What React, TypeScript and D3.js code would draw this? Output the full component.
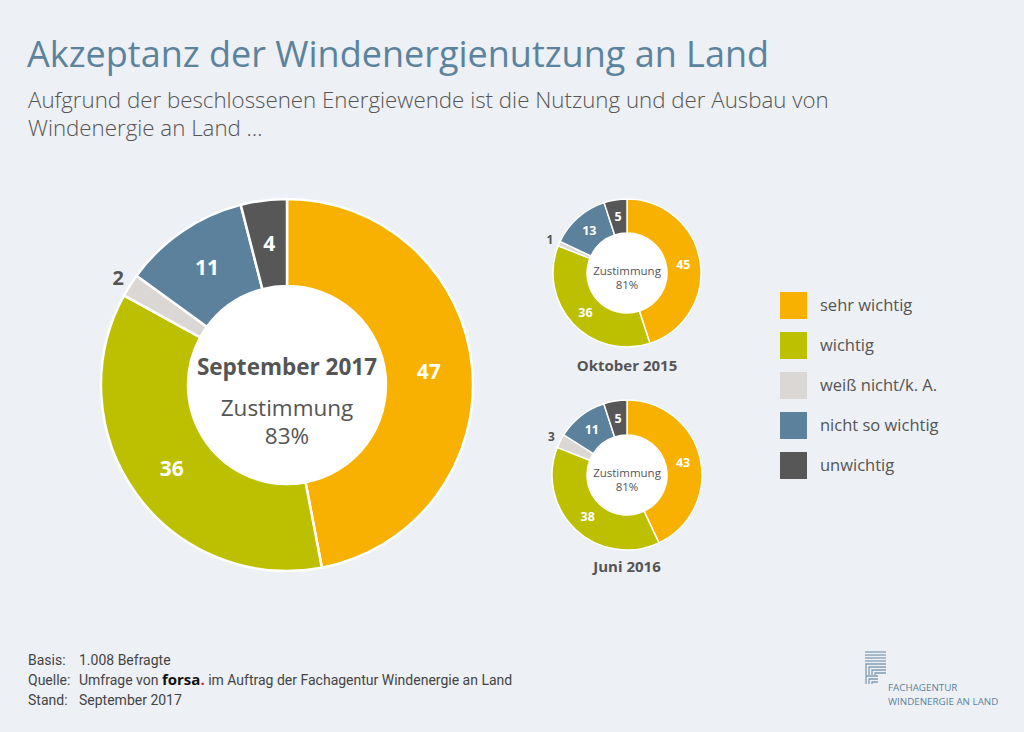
import React from "react";
import * as d3 from "d3";

const categories = ["sehr wichtig", "wichtig", "weiß nicht/k. A.", "nicht so wichtig", "unwichtig"];
const colors = ["#F8B100", "#BDC000", "#DBD7D4", "#5B819D", "#575757"];
const labelColors = ["#fff", "#fff", "#555", "#fff", "#fff"];

const sep2017 = [47, 36, 2, 11, 4];
const okt2015 = [45, 36, 1, 13, 5];
const jun2016 = [43, 38, 3, 11, 5];

const titleText = "Akzeptanz der Windenergienutzung an Land";
const subtitleLines = [
  "Aufgrund der beschlossenen Energiewende ist die Nutzung und der Ausbau von",
  "Windenergie an Land …",
];
const footerKeys = ["Basis:", "Quelle:", "Stand:"];

const BG = "#EDF0F4";
const TITLE_COLOR = "#5B839D";
const TEXT = "#555";
const FONT = "'Open Sans', 'Noto Sans', sans-serif";
const NARROW = "'Liberation Sans Narrow', 'Roboto', sans-serif";

type DonutProps = {
  values: number[];
  cx: number;
  cy: number;
  outer: number;
  inner: number;
  labelSize: number;
  outsideOffset: number;
  children?: React.ReactNode;
};

function Donut({ values, cx, cy, outer, inner, labelSize, outsideOffset, children }: DonutProps) {
  const pie = d3.pie<number>().sort(null).value((d) => d);
  const arcs = pie(values);
  const arc = d3.arc<d3.PieArcDatum<number>>().innerRadius(inner).outerRadius(outer);
  const labelArc = d3
    .arc<d3.PieArcDatum<number>>()
    .innerRadius((inner + outer) / 2)
    .outerRadius((inner + outer) / 2);
  const outArc = d3
    .arc<d3.PieArcDatum<number>>()
    .innerRadius(outer + outsideOffset)
    .outerRadius(outer + outsideOffset);
  return (
    <g transform={`translate(${cx},${cy})`}>
      <circle r={inner} fill="#fff" />
      {arcs.map((a, i) => (
        <path key={i} d={arc(a) || ""} fill={colors[i]} stroke="#fff" strokeWidth={outer > 100 ? 2.5 : 1.5} />
      ))}
      {arcs.map((a, i) => {
        const small = a.value <= 3;
        const [x, y] = small ? outArc.centroid(a) : labelArc.centroid(a);
        return (
          <text
            key={"l" + i}
            x={x}
            y={y}
            dy="0.36em"
            textAnchor="middle"
            fontFamily={FONT}
            fontWeight={700}
            fontSize={small ? labelSize * 0.95 : labelSize}
            fill={small ? TEXT : labelColors[i]}
          >
            {a.value}
          </text>
        );
      })}
      {children}
    </g>
  );
}

export default function App() {
  const W = 1024;
  const H = 732;
  return (
    <svg
      width={W}
      height={H}
      style={{ position: "absolute", left: 0, top: 0, display: "block" }}
    >
      <rect width={W} height={H} fill={BG} />
      <text x={27} y={67} fontFamily={FONT} fontSize={36} fill={TITLE_COLOR}>
        {titleText}
      </text>
      {subtitleLines.map((t, i) => (
        <text key={i} x={28} y={108 + i * 28} fontFamily={FONT} fontSize={22.3} fill={TEXT} fontWeight={300}>
          {t}
        </text>
      ))}

      <Donut values={sep2017} cx={287} cy={385} outer={186} inner={99} labelSize={21} outsideOffset={14}>
        <text y={-10} textAnchor="middle" fontFamily={FONT} fontWeight={700} fontSize={22.5} fill={TEXT}>
          September 2017
        </text>
        <text y={31} textAnchor="middle" fontFamily={FONT} fontSize={22.5} fill={TEXT}>
          Zustimmung
        </text>
        <text y={59} textAnchor="middle" fontFamily={FONT} fontSize={22.5} fill={TEXT}>
          83%
        </text>
      </Donut>

      <Donut values={okt2015} cx={627} cy={273} outer={74} inner={40} labelSize={12.5} outsideOffset={10}>
        <text y={2} textAnchor="middle" fontFamily={FONT} fontSize={11.5} fill={TEXT}>
          Zustimmung
        </text>
        <text y={16} textAnchor="middle" fontFamily={FONT} fontSize={11.5} fill={TEXT}>
          81%
        </text>
        <text y={98} textAnchor="middle" fontFamily={FONT} fontWeight={700} fontSize={15} fill={TEXT}>
          Oktober 2015
        </text>
      </Donut>

      <Donut values={jun2016} cx={627} cy={475} outer={75} inner={40} labelSize={12.5} outsideOffset={10}>
        <text y={2} textAnchor="middle" fontFamily={FONT} fontSize={11.5} fill={TEXT}>
          Zustimmung
        </text>
        <text y={16} textAnchor="middle" fontFamily={FONT} fontSize={11.5} fill={TEXT}>
          81%
        </text>
        <text y={97} textAnchor="middle" fontFamily={FONT} fontWeight={700} fontSize={15} fill={TEXT}>
          Juni 2016
        </text>
      </Donut>

      {categories.map((c, i) => (
        <g key={c} transform={`translate(780,${292 + i * 40})`}>
          <rect width={27} height={27} fill={colors[i]} />
          <text x={40} y={13.5} dy="0.35em" fontFamily={FONT} fontSize={16.5} fill={TEXT}>
            {c}
          </text>
        </g>
      ))}

      <g fontFamily={NARROW} fontSize={14} fill="#444">
        {footerKeys.map((k, i) => (
          <text key={k} x={28} y={665 + i * 20}>
            {k}
          </text>
        ))}
        <text x={79} y={665}>1.008 Befragte</text>
        <text x={79} y={685}>
          Umfrage von{" "}
          <tspan fontFamily={FONT} fontWeight={700} fontSize={15} fill="#111">forsa</tspan>
          <tspan fontFamily={FONT} fontWeight={700} fontSize={15} fill="#C0272D">.</tspan>
          <tspan> im Auftrag der Fachagentur Windenergie an Land</tspan>
        </text>
        <text x={79} y={705}>September 2017</text>
      </g>

      <g stroke="#7F9DB4" strokeWidth={1.3} fill="none">
        {[0, 1, 2, 3].map((i) => (
          <line key={"a" + i} x1={865} x2={886} y1={652 + i * 3} y2={652 + i * 3} />
        ))}
        {[0, 1, 2, 3].map((i) => (
          <path key={"b" + i} d={`M${866 + i * 3},${675} V${664 + i * 3} H886`} />
        ))}
        {[0, 1, 2].map((i) => (
          <path key={"c" + i} d={`M${866 + i * 3},${684} V${676 + i * 3} H878`} />
        ))}
      </g>
      <text x={888} y={691} fontFamily={FONT} fontSize={9.8} fill="#5B839D">FACHAGENTUR</text>
      <text x={888} y={705} fontFamily={FONT} fontSize={9.8} fill="#5B839D">WINDENERGIE AN LAND</text>
    </svg>
  );
}
